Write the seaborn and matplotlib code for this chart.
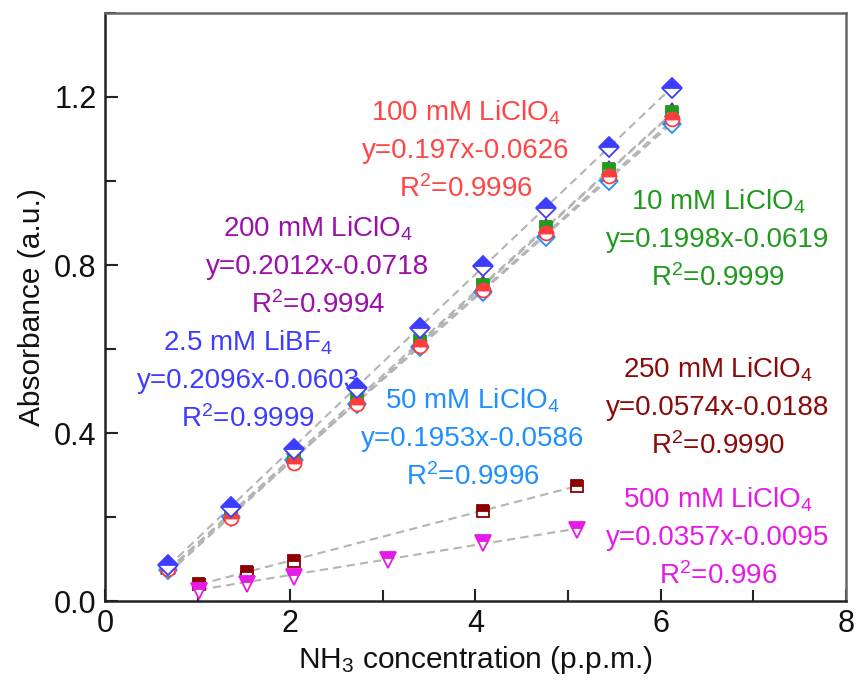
import numpy as np
import pandas as pd
import matplotlib
matplotlib.use("Agg")
import matplotlib.pyplot as plt
import seaborn as sns
from matplotlib.ticker import MultipleLocator

sns.set_theme(style="white")
plt.rcParams['font.family'] = ['Liberation Sans', 'DejaVu Sans']
plt.rcParams['mathtext.fontset'] = 'custom'
plt.rcParams['mathtext.rm'] = 'Liberation Sans'
plt.rcParams['mathtext.it'] = 'Liberation Sans:italic'

# ---- data ----
x_main = [0.68, 1.36, 2.04, 2.72, 3.40, 4.08, 4.76, 5.44, 6.12]
y_libf4 = [0.085, 0.225, 0.362, 0.508, 0.650, 0.797, 0.936, 1.080, 1.222]
y_10mm = [0.078, 0.205, 0.345, 0.480, 0.620, 0.752, 0.890, 1.028, 1.165]
y_50mm = [0.075, 0.200, 0.335, 0.470, 0.605, 0.735, 0.866, 1.000, 1.135]
y_100mm = [0.076, 0.198, 0.328, 0.468, 0.608, 0.740, 0.876, 1.012, 1.148]
y_200mm = [0.080, 0.210, 0.345, 0.482, 0.622, 0.758, 0.892, 1.032, 1.168]
x_250 = [1.02, 1.53, 2.04, 4.08, 5.10]
y_250mm = [0.040, 0.068, 0.095, 0.215, 0.275]
x_500 = [1.02, 1.53, 2.04, 3.06, 4.08, 5.10]
y_500mm = [0.025, 0.040, 0.058, 0.098, 0.138, 0.168]

slopes = {"libf4": 0.2096, "10": 0.1998, "50": 0.1953, "100": 0.197,
          "200": 0.2012, "250": 0.0574, "500": 0.0357}
inters = {"libf4": -0.0603, "10": -0.0619, "50": -0.0586, "100": -0.0626,
          "200": -0.0718, "250": -0.0188, "500": -0.0095}

series = [
    # key, x, y, color, marker, ms
    ("50", x_main, y_50mm, "#1e8fff", "D", 9),
    ("200", x_main, y_200mm, "#9a0aa8", "^", 10),
    ("10", x_main, y_10mm, "#1f9a1f", "s", 9),
    ("100", x_main, y_100mm, "#ff3b3b", "o", 10),
    ("libf4", x_main, y_libf4, "#3d3dff", "D", 10),
    ("250", x_250, y_250mm, "#8b0000", "s", 8.5),
    ("500", x_500, y_500mm, "#e619e6", "v", 11),
]

fig = plt.figure(figsize=(8.57, 6.83), dpi=100)
ax = fig.add_axes([0.1225, 0.12, 0.8646, 0.861])

# fit lines
for key, xs, ys, col, mk, ms in series:
    xx = np.array([xs[0], xs[-1]])
    ax.plot(xx, slopes[key] * xx + inters[key], ls=(0, (4, 2.5)),
            color="#b4b4b4", lw=1.5, zorder=1)

for key, xs, ys, col, mk, ms in series:
    df = pd.DataFrame({"x": xs, "y": ys})
    sns.lineplot(data=df, x="x", y="y", ax=ax, linestyle="", marker=mk,
                 markersize=ms, color=col, markeredgecolor=col,
                 markerfacecolor=col, markerfacecoloralt="white",
                 fillstyle="top", markeredgewidth=1.3, zorder=3)

# annotations
fs = 20
texts = [
    (3.90, 1.072, "100 mM LiClO$_4$\ny=0.197x-0.0626\nR$^2$=0.9996", "#ff4545"),
    (2.30, 0.796, "200 mM LiClO$_4$\ny=0.2012x-0.0718\nR$^2$=0.9994", "#9a10a8"),
    (1.545, 0.524, "2.5 mM LiBF$_4$\ny=0.2096x-0.0603\nR$^2$=0.9999", "#3d3dff"),
    (6.62, 0.860, "10 mM LiClO$_4$\ny=0.1998x-0.0619\nR$^2$=0.9999", "#1f9a1f"),
    (3.97, 0.386, "50 mM LiClO$_4$\ny=0.1953x-0.0586\nR$^2$=0.9996", "#1e8fff"),
    (6.62, 0.460, "250 mM LiClO$_4$\ny=0.0574x-0.0188\nR$^2$=0.9990", "#8b0a0a"),
    (6.62, 0.150, "500 mM LiClO$_4$\ny=0.0357x-0.0095\nR$^2$=0.996", "#e619e6"),
]
for tx, ty, s, c in texts:
    ax.text(tx, ty, s, color=c, fontsize=fs, ha="center", va="center",
            multialignment="center", linespacing=1.53, zorder=5)

ax.set_xlim(0, 8)
ax.set_ylim(0, 1.4)
ax.xaxis.set_major_locator(MultipleLocator(2))
ax.xaxis.set_minor_locator(MultipleLocator(1))
ax.yaxis.set_major_locator(MultipleLocator(0.4))
ax.yaxis.set_minor_locator(MultipleLocator(0.2))
ax.set_yticks([0.0, 0.4, 0.8, 1.2])
ax.set_yticklabels(["0.0", "0.4", "0.8", "1.2"])
ax.tick_params(axis="both", which="major", direction="in", length=9,
               width=1.5, labelsize=22, color="#222222", labelcolor="#111111",
               top=False, right=False, bottom=True, left=True, pad=6)
ax.tick_params(axis="both", which="minor", direction="in", length=8,
               width=1.5, color="#222222", top=False, right=False,
               bottom=True, left=True)
for side in ["left", "bottom"]:
    ax.spines[side].set_color("#222222")
    ax.spines[side].set_linewidth(1.8)
for side in ["top", "right"]:
    ax.spines[side].set_color("#666666")
    ax.spines[side].set_linewidth(1.8)

ax.set_xlabel("NH$_3$ concentration (p.p.m.)", fontsize=21.5, color="#111111", labelpad=3)
ax.set_ylabel("Absorbance (a.u.)", fontsize=21.5, color="#111111", labelpad=6)

fig.savefig("out.png", dpi=100)
